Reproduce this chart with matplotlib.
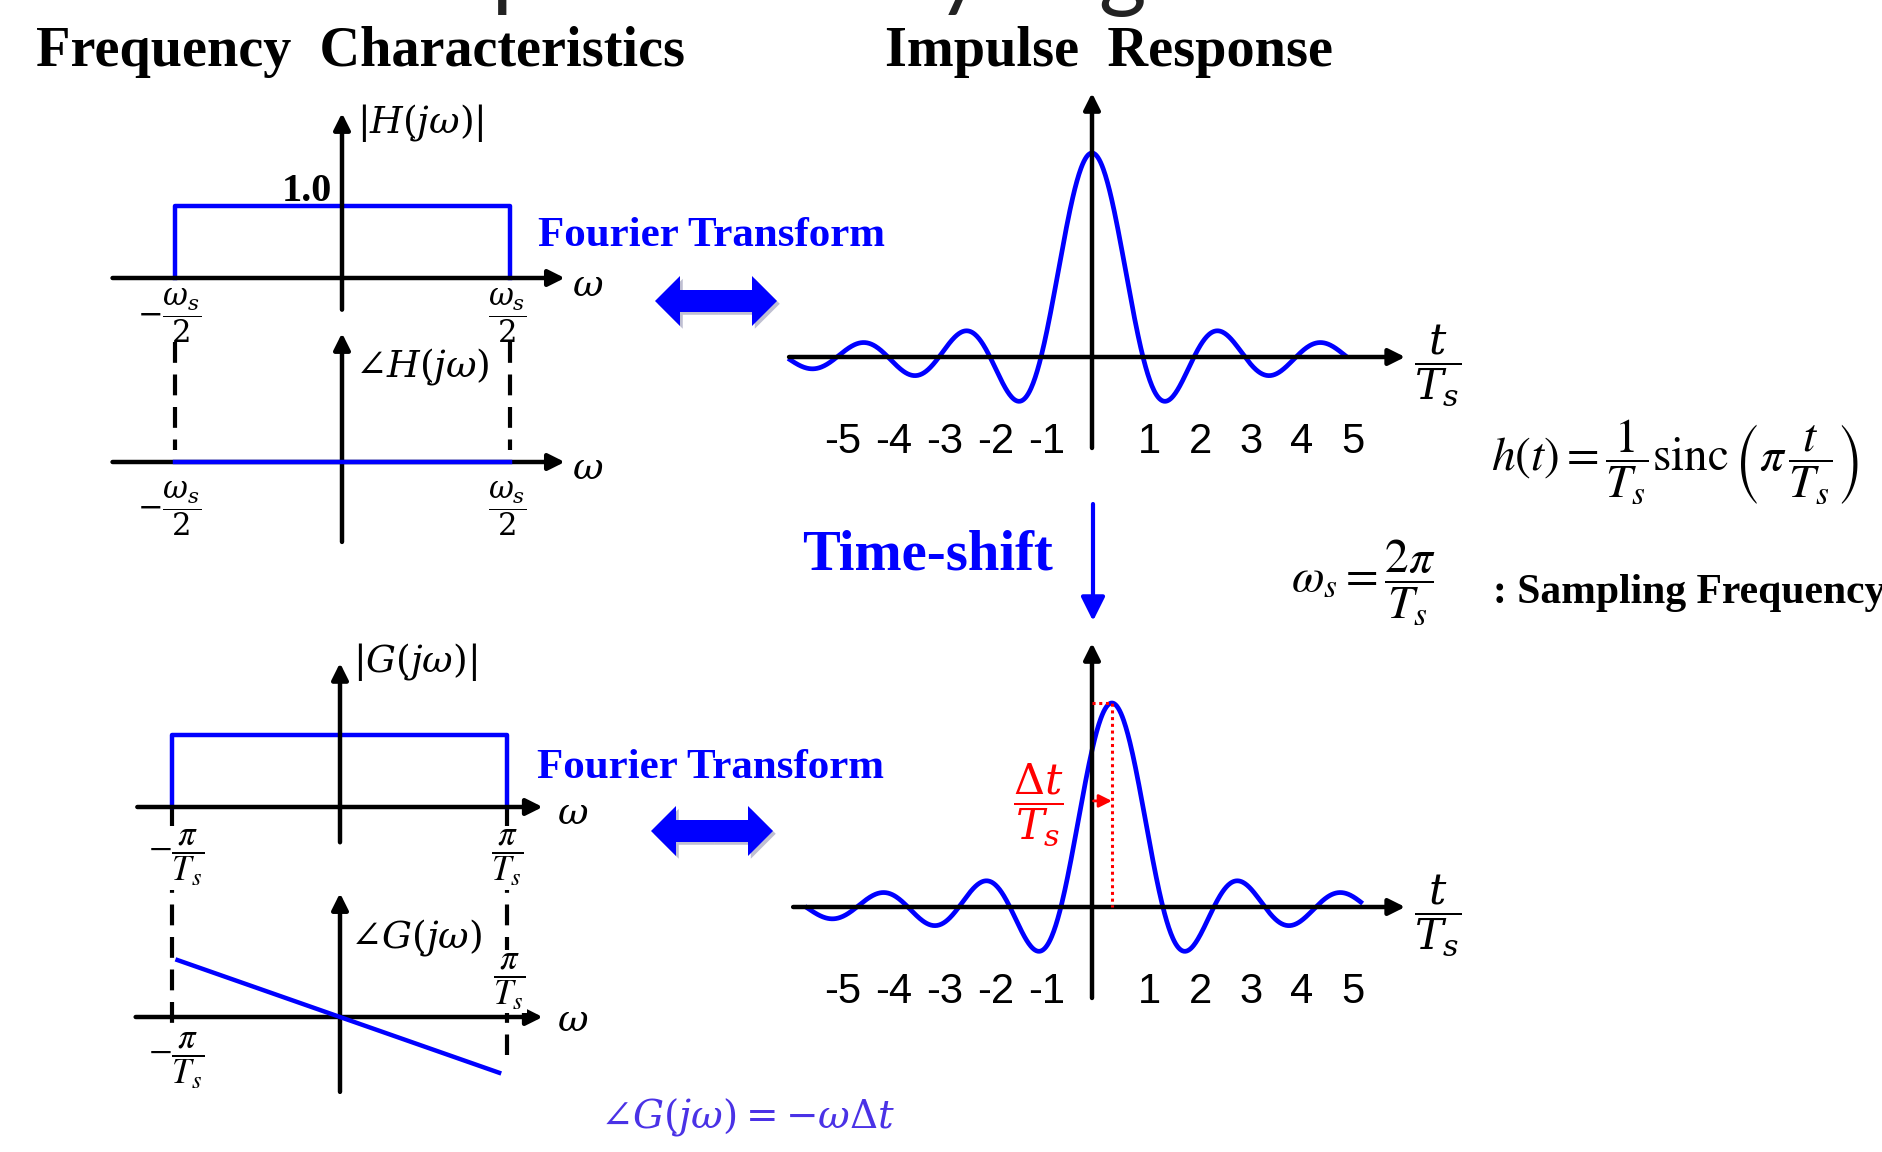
import numpy as np
import matplotlib.pyplot as plt
from matplotlib.patches import FancyArrow
import matplotlib.patheffects as pe

plt.rcParams['mathtext.fontset'] = 'stix'
plt.rcParams['font.family'] = 'Liberation Serif'

BLUE = '#0000ff'
RED = '#ff0000'
EQ_BLUE = '#4a32e6'

# band edges (omega_s/2 = pi/Ts scaled to 1) and passband gain
band = [-1.0, 1.0]
gain = 1.0
# linear phase of G(jw): drawn segment ends and slope (-w*dt)
phase_w = [-0.97, 0.95]
phase_slope = 0.815
# impulse responses, time in units of Ts
t_ticks = [-5, -4, -3, -2, -1, 1, 2, 3, 4, 5]
h_span = [-5.92, 4.96]
g_span = [-5.59, 5.27]
delay = 0.39

W, H = 1883, 1152
fig = plt.figure(figsize=(W / 100, H / 100), dpi=100)

# pixel canvas for free text and decorations
cv = fig.add_axes([0, 0, 1, 1])
cv.set_xlim(0, W)
cv.set_ylim(H, 0)
cv.axis('off')


def panel(cx, cy, sx, sy):
    # full-figure axes with data origin at pixel (cx, cy)
    ax = fig.add_axes([0, 0, 1, 1])
    ax.set_xlim(-cx / sx, (W - cx) / sx)
    ax.set_ylim(-(H - cy) / sy, cy / sy)
    ax.axis('off')
    return ax


def arrow_axis(ax, x0, y0, x1, y1, color='black', lw=3.2, ms=14, z=3):
    ax.annotate('', xy=(x1, y1), xytext=(x0, y0), zorder=z,
                arrowprops=dict(arrowstyle='-|>,head_length=0.7,head_width=0.35',
                                lw=lw, color=color, shrinkA=0, shrinkB=0,
                                mutation_scale=ms))


def frame(ax, xl, xr, yb, yt):
    arrow_axis(ax, xl, 0, xr, 0)
    arrow_axis(ax, 0, yb, 0, yt)


# axis-side math uses a wider serif, the formulas on the right stay Times-like
box = dict(fc='white', ec='none', pad=1)
frac = dict(fontsize=22, ha='center', va='center', math_fontfamily='dejavuserif', bbox=box)
pfrac = dict(fontsize=25, ha='center', va='center', math_fontfamily='stix', bbox=box)
mlab = dict(fontsize=27, math_fontfamily='dejavuserif')
tlab = dict(fontsize=31, ha='center', va='center', math_fontfamily='dejavuserif')

# |H(jw)|
a1 = panel(342, 278, 167.5, 72)
frame(a1, -1.37, 1.33, -0.44, 2.29)
a1.plot([band[0], band[0], band[1], band[1]], [0, gain, gain, 0], color=BLUE, lw=3.2, zorder=2)
a1.text(-0.06, 1.07, '1.0', fontsize=29, fontweight='bold', ha='right', va='baseline')
a1.text(0.09, 2.15, r'$|H(j\omega)|$', ha='left', va='center', **mlab)
a1.text(1.47, -0.12, r'$\omega$', ha='center', va='center', **mlab)
a1.text(-1.03, -0.52, r'$-\dfrac{\omega_s}{2}$', **frac)
a1.text(0.985, -0.52, r'$\dfrac{\omega_s}{2}$', **frac)

# angle H(jw)
a2 = panel(342, 462, 167.5, 72)
frame(a2, -1.37, 1.33, -1.11, 1.79)
a2.plot(band, [0, 0], color=BLUE, lw=3.2, zorder=4)
for e in band:
    a2.plot([e, e], [1.67, 0.17], color='black', lw=3, dashes=(5, 2.8), zorder=1)
a2.text(0.08, 1.32, r'$\angle H(j\omega)$', ha='left', va='center', **mlab)
a2.text(1.47, -0.11, r'$\omega$', ha='center', va='center', **mlab)
a2.text(-1.03, -0.65, r'$-\dfrac{\omega_s}{2}$', **frac)
a2.text(0.985, -0.65, r'$\dfrac{\omega_s}{2}$', **frac)

# |G(jw)|
a3 = panel(340, 807, 167.5, 72)
frame(a3, -1.21, 1.21, -0.49, 2.0)
a3.plot([band[0], band[0], band[1], band[1]], [0, gain, gain, 0], color=BLUE, lw=3.2, zorder=2)
a3.plot([band[0]] * 2, [0, -3.03], color='black', lw=3, dashes=(5, 2.8), zorder=1)
a3.plot([band[1]] * 2, [0, -3.44], color='black', lw=3, dashes=(5, 2.8), zorder=1)
a3.text(0.08, 2.01, r'$|G(j\omega)|$', ha='left', va='center', **mlab)
a3.text(1.39, -0.11, r'$\omega$', ha='center', va='center', **mlab)
a3.text(-0.98, -0.71, r'$-\dfrac{\pi}{T_s}$', **pfrac)
a3.text(1.0, -0.71, r'$\dfrac{\pi}{T_s}$', **pfrac)

# angle G(jw) = -w dt
a4 = panel(340, 1017, 167.5, 72)
frame(a4, -1.22, 1.21, -1.04, 1.72)
pw = np.array(phase_w)
a4.plot(pw, -phase_slope * pw, color=BLUE, lw=3.2, zorder=4)
a4.text(0.06, 1.11, r'$\angle G(j\omega)$', ha='left', va='center', **mlab)
a4.text(1.39, -0.07, r'$\omega$', ha='center', va='center', **mlab)
a4.text(1.01, 0.49, r'$\dfrac{\pi}{T_s}$', **pfrac)
a4.text(-0.98, -0.61, r'$-\dfrac{\pi}{T_s}$', **pfrac)

# h(t)
a5 = panel(1092, 357, 51, 204)
frame(a5, -5.94, 6.14, -0.446, 1.294)
t = np.linspace(h_span[0], h_span[1], 800)
a5.plot(t, np.sinc(t), color=BLUE, lw=3.4, zorder=2)
for k in t_ticks:
    a5.text(k + 0.12, -0.417, str(k), family='Liberation Sans', fontsize=30,
            ha='center', va='center')
a5.text(6.78, -0.04, r'$\dfrac{t}{T_s}$', **tlab)

# g(t) = h(t - dt)
a6 = panel(1092, 907, 51, 204)
frame(a6, -5.86, 6.14, -0.446, 1.294)
t = np.linspace(g_span[0], g_span[1], 800)
a6.plot(t, np.sinc(t - delay), color=BLUE, lw=3.4, zorder=2)
a6.plot([0, delay, delay], [1, 1, 0], color=RED, lw=2.2, dashes=(1, 1.2), zorder=4)
arrow_axis(a6, 0.03, 0.52, delay, 0.52, color=RED, lw=2, ms=11, z=5)
for k in t_ticks:
    a6.text(k + 0.12, -0.417, str(k), family='Liberation Sans', fontsize=30,
            ha='center', va='center')
a6.text(6.78, -0.04, r'$\dfrac{t}{T_s}$', **tlab)
a6.text(-1.06, 0.5, r'$\dfrac{\Delta t}{T_s}$', color=RED, **tlab)

# headings and captions
cv.text(210, -1, 'Linear-phase Delay Digital Filter', family='Lato', fontsize=66,
        color='#222222', va='baseline')
cv.text(36, 66, 'Frequency  Characteristics', fontsize=40.5, fontweight='bold', va='baseline')
cv.text(885, 66, 'Impulse  Response', fontsize=40.5, fontweight='bold', va='baseline')
cv.text(538, 246, 'Fourier Transform', fontsize=31, fontweight='bold', color=BLUE, va='baseline')
cv.text(537, 778, 'Fourier Transform', fontsize=31, fontweight='bold', color=BLUE, va='baseline')
cv.text(802, 570, 'Time-shift', fontsize=40.8, fontweight='bold', color=BLUE, va='baseline')

shadow = [pe.SimplePatchShadow(offset=(2, -2), alpha=0.25), pe.Normal()]
for cx, cy in [(716, 301), (712, 831)]:
    for d in (-1, 1):
        cv.add_patch(FancyArrow(cx, cy, d * 61, 0, width=22, head_width=50, head_length=25,
                                length_includes_head=True, color=BLUE, lw=0,
                                path_effects=shadow))
cv.annotate('', xy=(1093, 621), xytext=(1093, 504),
            arrowprops=dict(arrowstyle='-|>,head_length=0.8,head_width=0.4',
                            lw=3, color=BLUE, shrinkA=0, shrinkB=0, mutation_scale=18))

cv.text(1491, 462, r'$h(t)=\dfrac{1}{T_s}\mathrm{sinc}\,\left(\pi\,\dfrac{t}{T_s}\right)$',
        fontsize=34, va='center', ha='left')
cv.text(1291, 582, r'$\omega_s=\dfrac{2\pi}{T_s}$', fontsize=34, va='center', ha='left')
cv.text(1493, 603, ': Sampling Frequency', fontsize=30, fontweight='bold', va='baseline')
cv.text(600, 1117, r'$\angle G(j\omega)=-\omega\Delta t$', fontsize=28, color=EQ_BLUE,
        math_fontfamily='dejavuserif', va='center', ha='left')

fig.savefig('out.png', dpi=100)
